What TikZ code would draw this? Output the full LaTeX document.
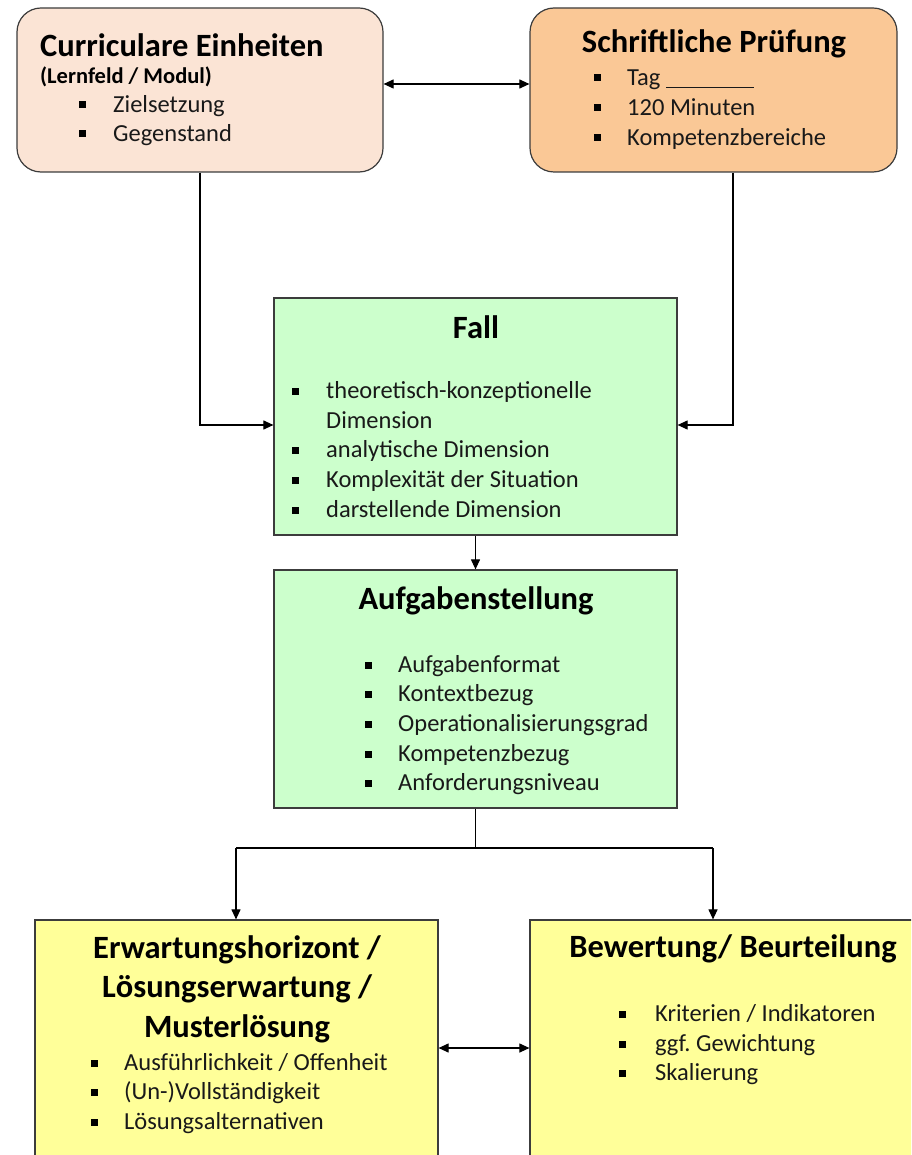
\documentclass[tikz,border=0pt]{standalone}
\usepackage{fontspec}
\setmainfont{Carlito}
\usetikzlibrary{arrows.meta,calc}
\frenchspacing

\definecolor{peach}{RGB}{251,228,213}
\definecolor{apricot}{RGB}{250,200,150}
\definecolor{mint}{RGB}{204,255,204}
\definecolor{lemon}{RGB}{255,255,153}
\definecolor{edge}{RGB}{60,60,60}
\definecolor{ink}{RGB}{25,25,25}

\tikzset{
  box/.style={draw=edge, line width=1.2pt, inner sep=0pt},
  rbox/.style={box, rounded corners=24pt},
  title/.style={inner sep=0pt, font=\fontsize{32.5}{39.5}\selectfont\bfseries, text=black, align=center},
  sub/.style={inner sep=0pt, anchor=west, font=\fontsize{22.5}{26}\selectfont\bfseries, text=black},
  item/.style={inner sep=0pt, anchor=west, font=\fontsize{24.5}{29}\selectfont, text=ink,
    text height=16pt, text depth=1pt},
  bulsq/.style={fill=black, inner sep=0pt, minimum size=7pt},
  conn/.style={draw=black, line width=1.1pt},
  arr/.style={conn, -{Triangle[length=10pt,width=9pt]}},
  arrs/.style={conn, {Triangle[length=10pt,width=9pt]}-{Triangle[length=10pt,width=9pt]}},
}

% a bullet square plus its item text
\newcommand\bitem[5]{%
  \node[bulsq] (#1b) at (#2,#4) {};
  \node[item] (#1) at (#3,#4) {#5};
}

\begin{document}
\begin{tikzpicture}[x=1pt,y=-1pt]
\useasboundingbox (0,0) rectangle (911,1155);
\clip (0,0) rectangle (911,1155);

% ---- boxes ----
\node[rbox, fill=peach, minimum width=366pt, minimum height=164pt] (cur) at (200,90) {};
\node[rbox, fill=apricot, minimum width=367pt, minimum height=164pt] (sp) at (713.5,90) {};
\node[box, fill=mint, minimum width=403pt, minimum height=237pt] (fall) at (475.5,416.5) {};
\node[box, fill=mint, minimum width=403pt, minimum height=238pt] (auf) at (475.5,689) {};
\node[box, fill=lemon, minimum width=403pt, minimum height=260pt] (erw) at (236.5,1050) {};
\node[box, fill=lemon, minimum width=403pt, minimum height=260pt] (bew) at (731.5,1050) {};

% ---- texts: Curriculare Einheiten ----
\node[title, anchor=west] (curT) at (40,45) {Curriculare Einheiten};
\node[sub] (curS) at (40,77) {(Lernfeld / Modul)};
\bitem{c1}{82}{113}{105}{Zielsetzung}
\bitem{c2}{82}{113}{134}{Gegenstand}

% ---- Schriftliche Prüfung ----
\node[title] (spT) at (714,44) {Schriftliche Prüfung};
\bitem{s1}{597}{627}{78}{Tag \underline{\hspace{88pt}}}
\bitem{s2}{597}{627}{108}{120 Minuten}
\bitem{s3}{597}{627}{138}{Kompetenzbereiche}

% ---- Fall ----
\node[title] (fallT) at (476,327) {Fall};
\bitem{f1}{295}{326}{391}{theoretisch-konzeptionelle}
\node[item] (f1x) at (326,421) {Dimension};
\bitem{f2}{295}{326}{450}{analytische Dimension}
\bitem{f3}{295}{326}{480}{Komplexität der Situation}
\bitem{f4}{295}{326}{510}{darstellende Dimension}

% ---- Aufgabenstellung ----
\node[title] (aufT) at (476,601) {Aufgabenstellung};
\bitem{a1}{368}{398}{665}{Aufgabenformat}
\bitem{a2}{368}{398}{694}{Kontextbezug}
\bitem{a3}{368}{398}{724}{Operationalisierungsgrad}
\bitem{a4}{368}{398}{754}{Kompetenzbezug}
\bitem{a5}{368}{398}{783}{Anforderungsniveau}

% ---- Erwartungshorizont ----
\node[title] (erwT) at (237,989) {Erwartungshorizont /\\Lösungserwartung /\\Musterlösung};
\bitem{e1}{94}{124}{1063}{Ausführlichkeit / Offenheit}
\bitem{e2}{94}{124}{1092}{(Un-)Vollständigkeit}
\bitem{e3}{94}{124}{1122}{Lösungsalternativen}

% ---- Bewertung ----
\node[title] (bewT) at (733,949) {Bewertung/ Beurteilung};
\bitem{b1}{622}{655}{1014}{Kriterien / Indikatoren}
\bitem{b2}{622}{655}{1044}{ggf. Gewichtung}
\bitem{b3}{622}{655}{1073}{Skalierung}

% ---- connectors ----
\coordinate (topy) at (0,84);
\coordinate (midy) at (0,425);
\coordinate (boty) at (0,1048);
\coordinate (split) at (475.5,848);
\coordinate (splitL) at (236,848);
\coordinate (splitR) at (713,848);

\draw[arrs] (cur.east |- topy) -- (sp.west |- topy);
\draw[arr] (cur.south) |- (fall.west |- midy);
\draw[arr] ([xshift=19.5pt]sp.south) |- (fall.east |- midy);
\draw[arr] (fall.south) -- (auf.north);
\draw[conn] (auf.south) -- (split);
\draw[conn] (splitL) -- (splitR);
\draw[arr] (splitL) -- (splitL |- erw.north);
\draw[arr] (splitR) -- (splitR |- bew.north);
\draw[arrs] (erw.east |- boty) -- (bew.west |- boty);
\end{tikzpicture}
\end{document}
